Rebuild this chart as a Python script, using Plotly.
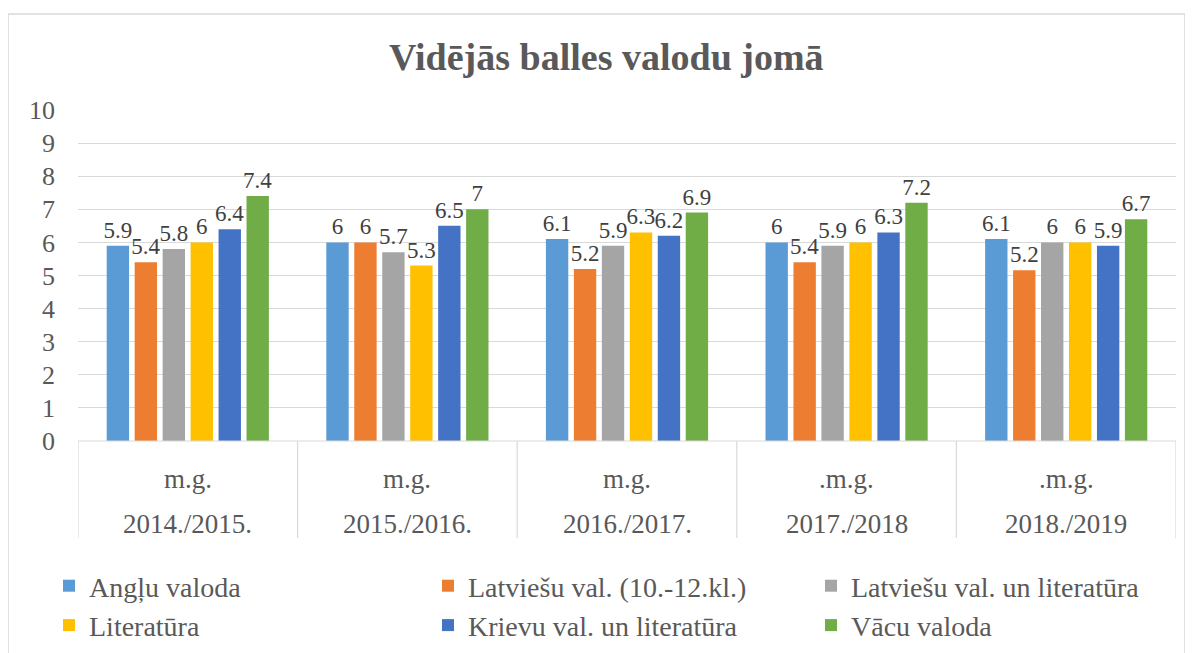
import plotly.graph_objects as go

years = ["2014./2015.", "2015./2016.", "2016./2017.", "2017./2018", "2018./2019"]
mg_labels = ["m.g.", "m.g.", "m.g.", ".m.g.", ".m.g."]
series_names = ["Angļu valoda", "Latviešu val. (10.-12.kl.)", "Latviešu val. un literatūra",
                "Literatūra", "Krievu val. un literatūra", "Vācu valoda"]
angl = [5.9, 6.0, 6.1, 6.0, 6.1]
latv_10_12 = [5.4, 6.0, 5.2, 5.4, 5.16]
latv_lit = [5.8, 5.7, 5.9, 5.9, 6.0]
literatura = [6.0, 5.3, 6.3, 6.0, 6.0]
krievu = [6.4, 6.5, 6.2, 6.3, 5.9]
vacu = [7.4, 7.0, 6.9, 7.2, 6.7]
colors = ["#5B9BD5", "#ED7D31", "#A5A5A5", "#FFC000", "#4472C4", "#70AD47"]
y_ticks = list(range(0, 11))

series = [angl, latv_10_12, latv_lit, literatura, krievu, vacu]
FONT = "Times New Roman, Liberation Serif, DejaVu Serif, serif"
TXT = "#595959"
FS_LABEL = 23
FS_AXIS = 26
FS_CAT = 27
FS_LEG = 28

OFF = 8  # page body margin
W, H = 1193 - OFF, 653 - OFF
L, R, T, B = 78 - OFF, 17, 110 - OFF, 212
pw, ph = W - L - R, H - T - B

def px_x(p):
    return (p - OFF - L) / pw

def px_y(p):
    return (H - B - (p - OFF)) / ph

legend_text_x = [91, 470, 853]

fig = go.Figure()
for i, (name, vals, col) in enumerate(zip(series_names, series, colors)):
    col_idx = i % 3
    lg = "legend" if col_idx == 0 else f"legend{col_idx + 1}"
    fig.add_trace(go.Bar(
        x=years, y=vals, name=name, marker=dict(color=col, line=dict(width=0)),
        text=[f"{round(v, 1):g}" for v in vals], textposition="outside", constraintext="none",
        textfont=dict(family=FONT, size=FS_LABEL, color="#404040"), cliponaxis=False,
        legend=lg, legendgroup=name,
    ))

annotations = [dict(text="<b>Vidējās balles valodu jomā</b>", xref="paper", yref="paper",
                    x=px_x(606), y=px_y(57), xanchor="center", yanchor="middle", showarrow=False,
                    font=dict(family=FONT, size=38, color=TXT))]
for yr, mg in zip(years, mg_labels):
    annotations.append(dict(text=mg, x=yr, xref="x", yref="paper", y=px_y(479), yanchor="middle",
                            showarrow=False, font=dict(family=FONT, size=FS_CAT, color=TXT)))
    annotations.append(dict(text=yr, x=yr, xref="x", yref="paper", y=px_y(524), yanchor="middle",
                            showarrow=False, font=dict(family=FONT, size=FS_CAT, color=TXT)))

shapes = [dict(type="rect", xref="paper", yref="paper", x0=px_x(8), x1=px_x(1185),
               y0=px_y(670), y1=px_y(14), line=dict(color="#D9D9D9", width=1.5))]
for i in range(len(years) + 1):
    shapes.append(dict(type="line", xref="x", yref="paper", x0=i - 0.5, x1=i - 0.5,
                       y0=0, y1=px_y(538), line=dict(color="#D9D9D9", width=1.2)))
shapes.append(dict(type="line", xref="paper", yref="paper", x0=0, x1=1, y0=0, y1=0,
                   line=dict(color="#D9D9D9", width=1.2)))

legend_common = dict(orientation="v", yanchor="top", xanchor="left", traceorder="normal",
                     font=dict(family=FONT, size=FS_LEG, color=TXT), itemwidth=30,
                     tracegroupgap=2, bgcolor="rgba(0,0,0,0)")
legends = {}
for j, tx in enumerate(legend_text_x):
    key = "legend" if j == 0 else f"legend{j + 1}"
    legends[key] = dict(legend_common, x=px_x(tx - 42), y=px_y(561))

fig.update_layout(
    width=W, height=H, margin=dict(l=L, r=R, t=T, b=B, autoexpand=False),
    paper_bgcolor="white", plot_bgcolor="white",
    barmode="group", bargap=0.236, bargroupgap=0.2,
    font=dict(family=FONT, color=TXT),
    xaxis=dict(showticklabels=False, showgrid=False, zeroline=False, showline=False,
               range=[-0.5, 4.5]),
    yaxis=dict(range=[0, 10], tickvals=y_ticks, showgrid=True, gridcolor="#D9D9D9", gridwidth=1.2,
               zeroline=False, showline=False, ticks="",
               tickfont=dict(family=FONT, size=FS_AXIS, color=TXT), ticklabelstandoff=22),
    annotations=annotations, shapes=shapes, showlegend=True,
    **legends,
)

fig.write_html("out.html")
